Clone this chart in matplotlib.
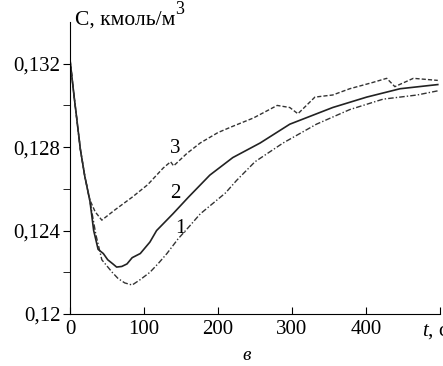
import matplotlib
matplotlib.use("Agg")
import matplotlib.pyplot as plt
from matplotlib.ticker import FixedLocator

plt.rcParams['font.family'] = ['Liberation Serif', 'DejaVu Serif']
plt.rcParams['mathtext.fontset'] = 'custom'
plt.rcParams['mathtext.it'] = 'Liberation Serif:italic'
plt.rcParams['mathtext.rm'] = 'Liberation Serif'

# curve 1 (dash-dot)
t1 = [0, 5, 10, 14, 20, 27, 35, 43, 50, 57, 65, 74, 84, 95, 108, 120, 131, 146,
      160, 176, 193, 210, 225, 250, 288, 333, 378, 423, 469, 497]
c1 = [0.1322, 0.1306, 0.1291, 0.1279, 0.1266, 0.1254, 0.1238, 0.1226, 0.1223,
      0.1220, 0.1217, 0.12149, 0.12139, 0.12165, 0.1220, 0.12245, 0.1229, 0.1236,
      0.12415, 0.1248, 0.1253, 0.1258, 0.1264, 0.1273, 0.1282, 0.1291, 0.1298,
      0.1303, 0.1305, 0.1307]

# curve 2 (solid)
t2 = [0, 5, 10, 14, 20, 27, 32, 38, 45, 51, 58, 63, 70, 77, 84, 95, 108, 117,
      139, 160, 189, 220, 257, 297, 355, 401, 446, 497]
c2 = [0.1322, 0.1306, 0.1291, 0.1279, 0.1266, 0.1254, 0.1240, 0.1231, 0.1229,
      0.1226, 0.1224, 0.12225, 0.12228, 0.1224, 0.1227, 0.1229, 0.12345, 0.1240,
      0.1248, 0.1256, 0.12666, 0.1275, 0.1282, 0.1291, 0.1299, 0.1304, 0.1308,
      0.1310]

# curve 3 (dashed)
t3 = [0, 5, 10, 14, 20, 27, 34, 43, 61, 84, 105, 126, 136, 140, 158, 176, 200,
      220, 248, 280, 297, 308, 331, 355, 378, 409, 428, 439, 464, 497]
c3 = [0.1322, 0.1306, 0.1291, 0.1279, 0.1266, 0.12546, 0.1249, 0.1245, 0.1250,
      0.1256, 0.1262, 0.1270, 0.1273, 0.1271, 0.1277, 0.1282, 0.1287,
      0.1290, 0.1294, 0.1300, 0.1299, 0.1296, 0.1304, 0.1305, 0.1308, 0.1311,
      0.1313, 0.1309, 0.1313, 0.1312]

x_ticks = [0, 100, 200, 300, 400, 500]
x_labels = ["0", "100", "200", "300", "400", ""]
y_ticks = [0.12, 0.124, 0.128, 0.132]
y_labels = ["0,12", "0,124", "0,128", "0,132"]
y_minor = [0.122, 0.126, 0.130]

fig = plt.figure(figsize=(4.43, 3.66), dpi=100)
ax = fig.add_axes([70 / 443, 52 / 366, 370 / 443, 292 / 366])

ax.plot(t1, c1, color="#333333", lw=1.0, linestyle=(0, (4, 1.5, 1, 1.5)))
ax.plot(t2, c2, color="#222222", lw=1.2, linestyle="-")
ax.plot(t3, c3, color="#333333", lw=1.0, linestyle=(0, (3, 1.5)))

ax.set_xlim(0, 500)
ax.set_ylim(0.12, 0.134)
ax.spines["right"].set_visible(False)
ax.spines["top"].set_visible(False)

ax.set_xticks(x_ticks)
ax.set_xticklabels(x_labels)
ax.set_yticks(y_ticks)
ax.set_yticklabels(y_labels)
ax.yaxis.set_minor_locator(FixedLocator(y_minor))
ax.tick_params(axis="x", direction="in", length=5, labelsize=15, pad=4)
ax.tick_params(axis="y", which="major", direction="out", length=5, labelsize=15, pad=2)
ax.tick_params(axis="y", which="minor", direction="out", length=5)

fig.text(75 / 443, 1 - 20 / 366, "С, кмоль/м", fontsize=15.5, ha="left", va="center")
fig.text(175 / 443, 1 - 9 / 366, "3", fontsize=13, ha="left", va="center")
ax.text(476, 0.12 - 0.00085, "$t$, с", fontsize=15, ha="left", va="center", clip_on=False)
fig.text(247 / 443, 1 - 356 / 366, "$в$", fontsize=14, ha="center", va="center")

ax.text(142, 0.12795, "3", fontsize=15, ha="center", va="center")
ax.text(142, 0.1258, "2", fontsize=15, ha="center", va="center")
ax.text(149, 0.1241, "1", fontsize=15, ha="center", va="center")

fig.savefig("out.png", dpi=100)
